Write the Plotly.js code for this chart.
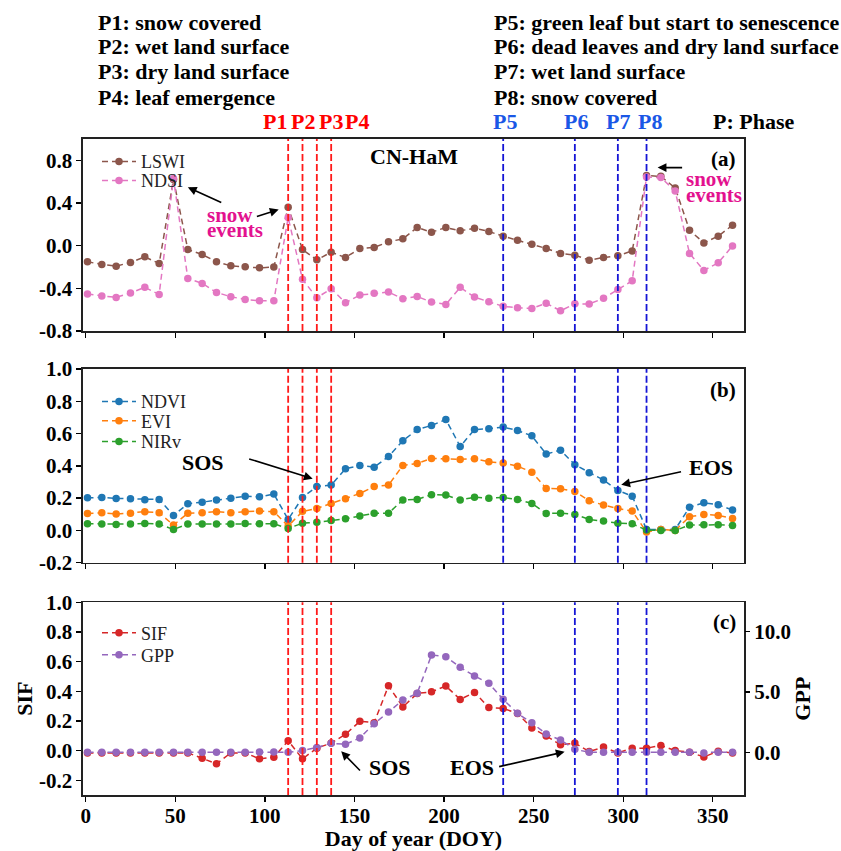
<!DOCTYPE html>
<html>
<head>
<meta charset="utf-8">
<script src="https://cdn.plot.ly/plotly-3.0.1.min.js"></script>
<style>html,body{margin:0;padding:0;background:#fff;}#chart{width:841px;height:851px;}</style>
</head>
<body>
<div id="chart"></div>
<script>
// ---------- data ----------
const doy = [1,9,17,25,33,41,49,57,65,73,81,89,97,105,113,121,129,137,145,153,161,169,177,185,193,201,209,217,225,233,241,249,257,265,273,281,289,297,305,313,321,329,337,345,353,361];

const lswi = [-0.151,-0.176,-0.192,-0.157,-0.105,-0.167,0.620,-0.036,-0.083,-0.151,-0.189,-0.198,-0.208,-0.201,0.360,-0.036,-0.133,-0.061,-0.111,-0.026,-0.017,0.036,0.064,0.170,0.126,0.170,0.139,0.164,0.133,0.089,0.051,0.014,-0.026,-0.073,-0.089,-0.136,-0.111,-0.095,-0.049,0.657,0.650,0.541,0.145,0.026,0.089,0.192];
const ndsi = [-0.454,-0.473,-0.485,-0.444,-0.391,-0.457,0.629,-0.307,-0.354,-0.438,-0.479,-0.504,-0.516,-0.516,0.264,-0.316,-0.488,-0.404,-0.535,-0.463,-0.447,-0.435,-0.498,-0.476,-0.529,-0.551,-0.391,-0.482,-0.526,-0.569,-0.582,-0.588,-0.541,-0.610,-0.545,-0.547,-0.494,-0.410,-0.329,0.644,0.638,0.513,-0.073,-0.232,-0.161,-0.002];

const ndvi = [0.202,0.204,0.198,0.196,0.190,0.192,0.093,0.165,0.175,0.188,0.200,0.212,0.208,0.225,0.068,0.204,0.272,0.281,0.382,0.402,0.392,0.458,0.555,0.625,0.650,0.687,0.520,0.625,0.630,0.640,0.619,0.586,0.473,0.497,0.407,0.357,0.312,0.248,0.212,0.006,0.006,0.006,0.144,0.171,0.159,0.126];
const evi = [0.105,0.109,0.101,0.107,0.116,0.109,0.033,0.107,0.109,0.116,0.109,0.116,0.120,0.116,0.027,0.118,0.136,0.167,0.196,0.229,0.272,0.281,0.402,0.415,0.446,0.444,0.440,0.444,0.425,0.417,0.398,0.361,0.260,0.258,0.241,0.184,0.157,0.136,0.120,-0.010,0.006,0.000,0.085,0.099,0.093,0.074];
const nirv = [0.041,0.039,0.037,0.039,0.043,0.039,0.006,0.039,0.039,0.039,0.039,0.043,0.041,0.041,0.012,0.045,0.050,0.062,0.072,0.089,0.107,0.107,0.188,0.192,0.221,0.219,0.188,0.206,0.200,0.204,0.192,0.167,0.105,0.107,0.099,0.068,0.058,0.045,0.041,0.002,0.000,0.000,0.033,0.035,0.035,0.031];

const sif = [-0.016,-0.016,-0.016,-0.016,-0.016,-0.016,-0.016,-0.016,-0.052,-0.090,-0.016,-0.016,-0.056,-0.045,0.066,-0.056,0.016,0.050,0.109,0.197,0.188,0.437,0.294,0.385,0.396,0.435,0.345,0.392,0.290,0.284,0.250,0.152,0.098,0.039,0.050,-0.007,0.023,-0.016,0.016,0.016,0.034,0.000,-0.011,-0.043,-0.005,-0.016];
const gpp = [0,0,0,0,0,0,0,0,0,0,0,0,0.02,0.02,0,0.14,0.40,0.75,0.66,1.19,2.37,3.34,4.34,4.89,8.07,7.93,7.05,6.33,5.72,4.39,3.23,2.45,1.52,1.02,0.25,0,0,0,0,0,0,0,0,-0.05,0,0];

const redPhaseDays = [113,121,129,137];
const bluePhaseDays = [233,273,297,313];
const redPhaseLabels = ['P1','P2','P3','P4'];
const bluePhaseLabels = ['P5','P6','P7','P8'];
const leftNotes = ['P1: snow covered','P2: wet land surface','P3: dry land surface','P4: leaf emergence'];
const rightNotes = ['P5: green leaf but start to senescence','P6: dead leaves and dry land surface','P7: wet land surface','P8: snow covered'];

const xTicks = [0,50,100,150,200,250,300,350];
const yTicksA = [-0.8,-0.4,0.0,0.4,0.8];
const yTextA = ['-0.8','-0.4','0.0','0.4','0.8'];
const yTicksB = [-0.2,0.0,0.2,0.4,0.6,0.8,1.0];
const yTextB = ['-0.2','0.0','0.2','0.4','0.6','0.8','1.0'];
const yTicksG = [0,5,10];
const yTextG = ['0.0','5.0','10.0'];

// ---------- layout helpers ----------
const W = 841, H = 851, ML = 83, MR = 97;
const PW = W - ML - MR;
const px = p => (p - ML) / PW;
const py = p => (H - p) / H;
const FONT = 'Liberation Serif, Times New Roman, serif';

function series(x, y, name, color, xa, ya, legend) {
  return {x: x, y: y, name: name, type: 'scatter', mode: 'lines+markers',
    xaxis: xa, yaxis: ya, legend: legend,
    line: {color: color, width: 1.5, dash: '6px,4px'},
    marker: {color: color, size: 7.5}};
}

const traces = [
  series(doy, lswi, 'LSWI', '#8c564b', 'x', 'y', 'legend'),
  series(doy, ndsi, 'NDSI', '#e377c2', 'x', 'y', 'legend2'),
  series(doy, ndvi, 'NDVI', '#1f77b4', 'x2', 'y2', 'legend3'),
  series(doy, evi, 'EVI', '#ff7f0e', 'x2', 'y2', 'legend4'),
  series(doy, nirv, 'NIRv', '#2ca02c', 'x2', 'y2', 'legend5'),
  series(doy, gpp, 'GPP', '#9467bd', 'x3', 'y4', 'legend7'),
  series(doy, sif, 'SIF', '#d62728', 'x3', 'y3', 'legend6')
];

const tickFont = {family: FONT, size: 21, color: '#000', weight: 'bold'};
function xAxis(anchor, labels) {
  return {domain: [0, 1], range: [-1.5, 367.4], anchor: anchor,
    tickvals: xTicks, ticks: 'outside', ticklen: 5, tickwidth: 1.3, tickcolor: '#000',
    showticklabels: labels, tickfont: tickFont,
    showline: true, mirror: true, linecolor: '#222', linewidth: 1.6,
    showgrid: false, zeroline: false};
}
function yAxis(anchor, dom, range, vals, text) {
  return {domain: dom, range: range, anchor: anchor,
    tickvals: vals, ticktext: text, ticks: 'outside', ticklen: 5, tickwidth: 1.3, tickcolor: '#000',
    tickfont: tickFont, showline: true, mirror: true, linecolor: '#222', linewidth: 1.6,
    showgrid: false, zeroline: false};
}

const layout = {
  width: W, height: H,
  margin: {l: ML, r: MR, t: 0, b: 0},
  paper_bgcolor: '#fff', plot_bgcolor: '#fff',
  font: {family: FONT, color: '#000'},
  xaxis: xAxis('y', false),
  xaxis2: xAxis('y2', false),
  xaxis3: Object.assign(xAxis('y3', true), {ticklabelstandoff: -4,
    title: {text: 'Day of year (DOY)', font: {family: FONT, size: 22, weight: 'bold'}, standoff: 4}}),
  yaxis: yAxis('x', [py(331), py(139)], [-0.8, 1.0], yTicksA, yTextA),
  yaxis2: yAxis('x2', [py(562.7), py(369)], [-0.2, 1.0], yTicksB, yTextB),
  yaxis3: Object.assign(yAxis('x3', [py(795), py(602.3)], [-0.3, 1.0], yTicksB, yTextB),
    {title: {text: 'SIF', font: {family: FONT, size: 22, weight: 'bold'}, standoff: 0}}),
  yaxis4: {overlaying: 'y3', side: 'right', anchor: 'x3', range: [-3.54, 12.44],
    tickvals: yTicksG, ticktext: yTextG, ticks: 'outside', ticklen: 5, tickwidth: 1.3, tickcolor: '#000',
    tickfont: tickFont, showline: false, showgrid: false, zeroline: false,
    title: {text: 'GPP', font: {family: FONT, size: 22, weight: 'bold'}, standoff: 4}},
  showlegend: true,
  shapes: [],
  annotations: []
};

// one native legend box per entry, so that rows sit as close as in the reference
const legendRows = [161.7, 180.7, 401.7, 421.0, 441.7, 633.0, 655.0];
['legend','legend2','legend3','legend4','legend5','legend6','legend7'].forEach((id, i) => {
  layout[id] = {x: px(97), y: py(legendRows[i]), xanchor: 'left', yanchor: 'middle',
    bgcolor: 'rgba(0,0,0,0)', borderwidth: 0, itemwidth: 34,
    font: {family: FONT, size: 18, color: '#222'}};
});

// phase lines on each panel
const panels = [['x', 'y domain'], ['x2', 'y2 domain'], ['x3', 'y3 domain']];
panels.forEach(p => {
  redPhaseDays.forEach(d => layout.shapes.push({type: 'line', xref: p[0], yref: p[1], x0: d, x1: d, y0: 0, y1: 1,
    line: {color: '#ff1a1a', width: 1.8, dash: '7px,3px'}}));
  bluePhaseDays.forEach(d => layout.shapes.push({type: 'line', xref: p[0], yref: p[1], x0: d, x1: d, y0: 0, y1: 1,
    line: {color: '#1515d5', width: 1.8, dash: '7px,3px'}}));
});

const ann = layout.annotations;
function txt(x, y, text, opts) {
  ann.push(Object.assign({x: x, y: y, text: text, showarrow: false, xanchor: 'center', yanchor: 'middle', borderpad: 0,
    font: {family: FONT, size: 22, color: '#000', weight: 'bold'}}, opts || {}));
}
function arrow(xr, yr, x, y, ax, ay) {
  ann.push({xref: xr, yref: yr, axref: xr, ayref: yr, x: x, y: y, ax: ax, ay: ay, text: '',
    showarrow: true, arrowhead: 2, arrowsize: 1.1, arrowwidth: 1.6, arrowcolor: '#000'});
}

// header notes
const noteY = [22.7, 46.7, 71.5, 97.5];
leftNotes.forEach((t, i) => txt(px(97), py(noteY[i]), t, {xref: 'paper', yref: 'paper', xanchor: 'left'}));
rightNotes.forEach((t, i) => txt(px(493), py(noteY[i]), t, {xref: 'paper', yref: 'paper', xanchor: 'left'}));
const redLabelX = [275, 302.5, 331, 357];
const blueLabelX = [505, 576, 618, 650];
redPhaseLabels.forEach((t, i) => txt(px(redLabelX[i]), py(121.7), t, {xref: 'paper', yref: 'paper', font: {family: FONT, size: 22, color: '#ff0000', weight: 'bold'}}));
bluePhaseLabels.forEach((t, i) => txt(px(blueLabelX[i]), py(121.7), t, {xref: 'paper', yref: 'paper', font: {family: FONT, size: 22, color: '#1a57e6', weight: 'bold'}}));
txt(px(754), py(121.7), 'P: Phase', {xref: 'paper', yref: 'paper'});

// panel (a)
txt(183, 0.837, 'CN-HaM', {xref: 'x', yref: 'y'});
txt(363.5, 0.809, '(a)', {xref: 'x', yref: 'y', xanchor: 'right', font: {family: FONT, size: 21, color: '#000', weight: 'bold'}});
const magenta = '#e3128f';
const snowFont = {family: FONT, size: 21, color: magenta, weight: 'bold'};
txt(67.2, 0.29, 'snow', {xref: 'x', yref: 'y', xanchor: 'left', font: snowFont});
txt(67.2, 0.143, 'events', {xref: 'x', yref: 'y', xanchor: 'left', font: snowFont});
txt(334.3, 0.625, 'snow', {xref: 'x', yref: 'y', xanchor: 'left', font: snowFont});
txt(334.3, 0.472, 'events', {xref: 'x', yref: 'y', xanchor: 'left', font: snowFont});
arrow('x', 'y', 57.0, 0.547, 76.5, 0.398);
arrow('x', 'y', 107.7, 0.339, 94.7, 0.269);
arrow('x', 'y', 319.2, 0.732, 333.7, 0.732);

// panel (b)
txt(363.5, 0.867, '(b)', {xref: 'x2', yref: 'y2', xanchor: 'right', font: {family: FONT, size: 21, color: '#000', weight: 'bold'}});
txt(65.5, 0.418, 'SOS', {xref: 'x2', yref: 'y2'});
txt(349, 0.388, 'EOS', {xref: 'x2', yref: 'y2'});
arrow('x2', 'y2', 126.7, 0.320, 90.4, 0.446);
arrow('x2', 'y2', 298.9, 0.283, 333.1, 0.365);

// panel (c)
txt(363.5, 0.867, '(c)', {xref: 'x3', yref: 'y3', xanchor: 'right', font: {family: FONT, size: 21, color: '#000', weight: 'bold'}});
txt(169.6, -0.116, 'SOS', {xref: 'x3', yref: 'y3'});
txt(215.4, -0.116, 'EOS', {xref: 'x3', yref: 'y3'});
arrow('x3', 'y3', 142.6, -0.005, 153.9, -0.145);
arrow('x3', 'y3', 267.3, -0.009, 229.9, -0.111);

Plotly.newPlot('chart', traces, layout, {displayModeBar: false, staticPlot: true});
</script>
</body>
</html>
